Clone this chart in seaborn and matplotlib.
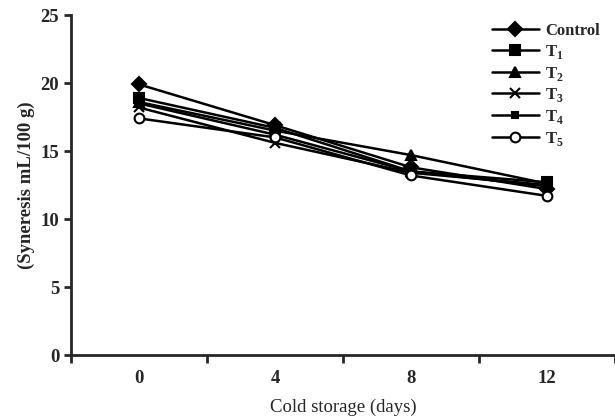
import matplotlib
matplotlib.use('Agg')
import matplotlib.pyplot as plt
import seaborn as sns
import numpy as np

# Syneresis during cold storage
days = ['0', '4', '8', '12']
control = [19.9, 16.9, 13.8, 12.2]
t1 = [18.9, 16.7, 13.5, 12.7]
t2 = [18.6, 16.5, 14.7, 12.6]
t3 = [18.2, 15.6, 13.4, 12.5]
t4 = [18.5, 16.2, 13.5, 12.4]
t5 = [17.4, 16.0, 13.2, 11.7]

series = [
    ('Control', control, 'D', 'black', 7),
    (r'T$_{\mathregular{1}}$', t1, 's', 'black', 7),
    (r'T$_{\mathregular{2}}$', t2, '^', 'black', 7),
    (r'T$_{\mathregular{3}}$', t3, 'x', 'black', 7),
    (r'T$_{\mathregular{4}}$', t4, 's', 'black', 4.5),
    (r'T$_{\mathregular{5}}$', t5, 'o', 'white', 7),
]

sns.set_style('ticks')
plt.rcParams['font.family'] = ['Liberation Serif', 'DejaVu Serif']
plt.rcParams['mathtext.fontset'] = 'custom'
plt.rcParams['mathtext.rm'] = 'Liberation Serif:bold'

fig = plt.figure(figsize=(6.15, 4.18), dpi=100)
ax = fig.add_axes([0.1154, 0.1507, 0.8846, 0.8134])

x = np.arange(len(days))
for name, vals, m, fc, ms in series:
    sns.lineplot(x=x, y=vals, ax=ax, color='black', marker=m, markersize=ms,
                 markerfacecolor=fc, markeredgecolor='black', markeredgewidth=1.5,
                 linewidth=1.8, label=name)

ax.set_xlim(-0.5, 3.47)
ax.set_ylim(0, 25)
ax.set_yticks([0, 5, 10, 15, 20, 25])
ax.set_xticks(x)
ax.set_xticklabels(days)
ax.set_xticks([-0.5, 0.5, 1.5, 2.5, 3.5], minor=True)
ax.tick_params(axis='x', which='major', length=0, pad=11)
ax.tick_params(axis='x', which='minor', length=6, width=2, direction='out')
ax.tick_params(axis='y', length=5, width=2, direction='out')
for lab in ax.get_xticklabels() + ax.get_yticklabels():
    lab.set_fontweight('bold')
    lab.set_fontsize(13.5)

for s in ['top', 'right']:
    ax.spines[s].set_visible(False)
for s in ['left', 'bottom']:
    ax.spines[s].set_linewidth(2)

ax.set_xlabel('Cold storage (days)', fontsize=13.5, labelpad=8)
ax.set_ylabel('(Syneresis mL/100 g)', fontsize=13.5, fontweight='bold')

leg = ax.legend(loc='upper right', bbox_to_anchor=(1.0, 1.02), frameon=False,
                fontsize=12, handlelength=2.8, labelspacing=0.22, handletextpad=0.4)
for t in leg.get_texts():
    t.set_fontweight('bold')

fig.savefig('out.png', dpi=100)
